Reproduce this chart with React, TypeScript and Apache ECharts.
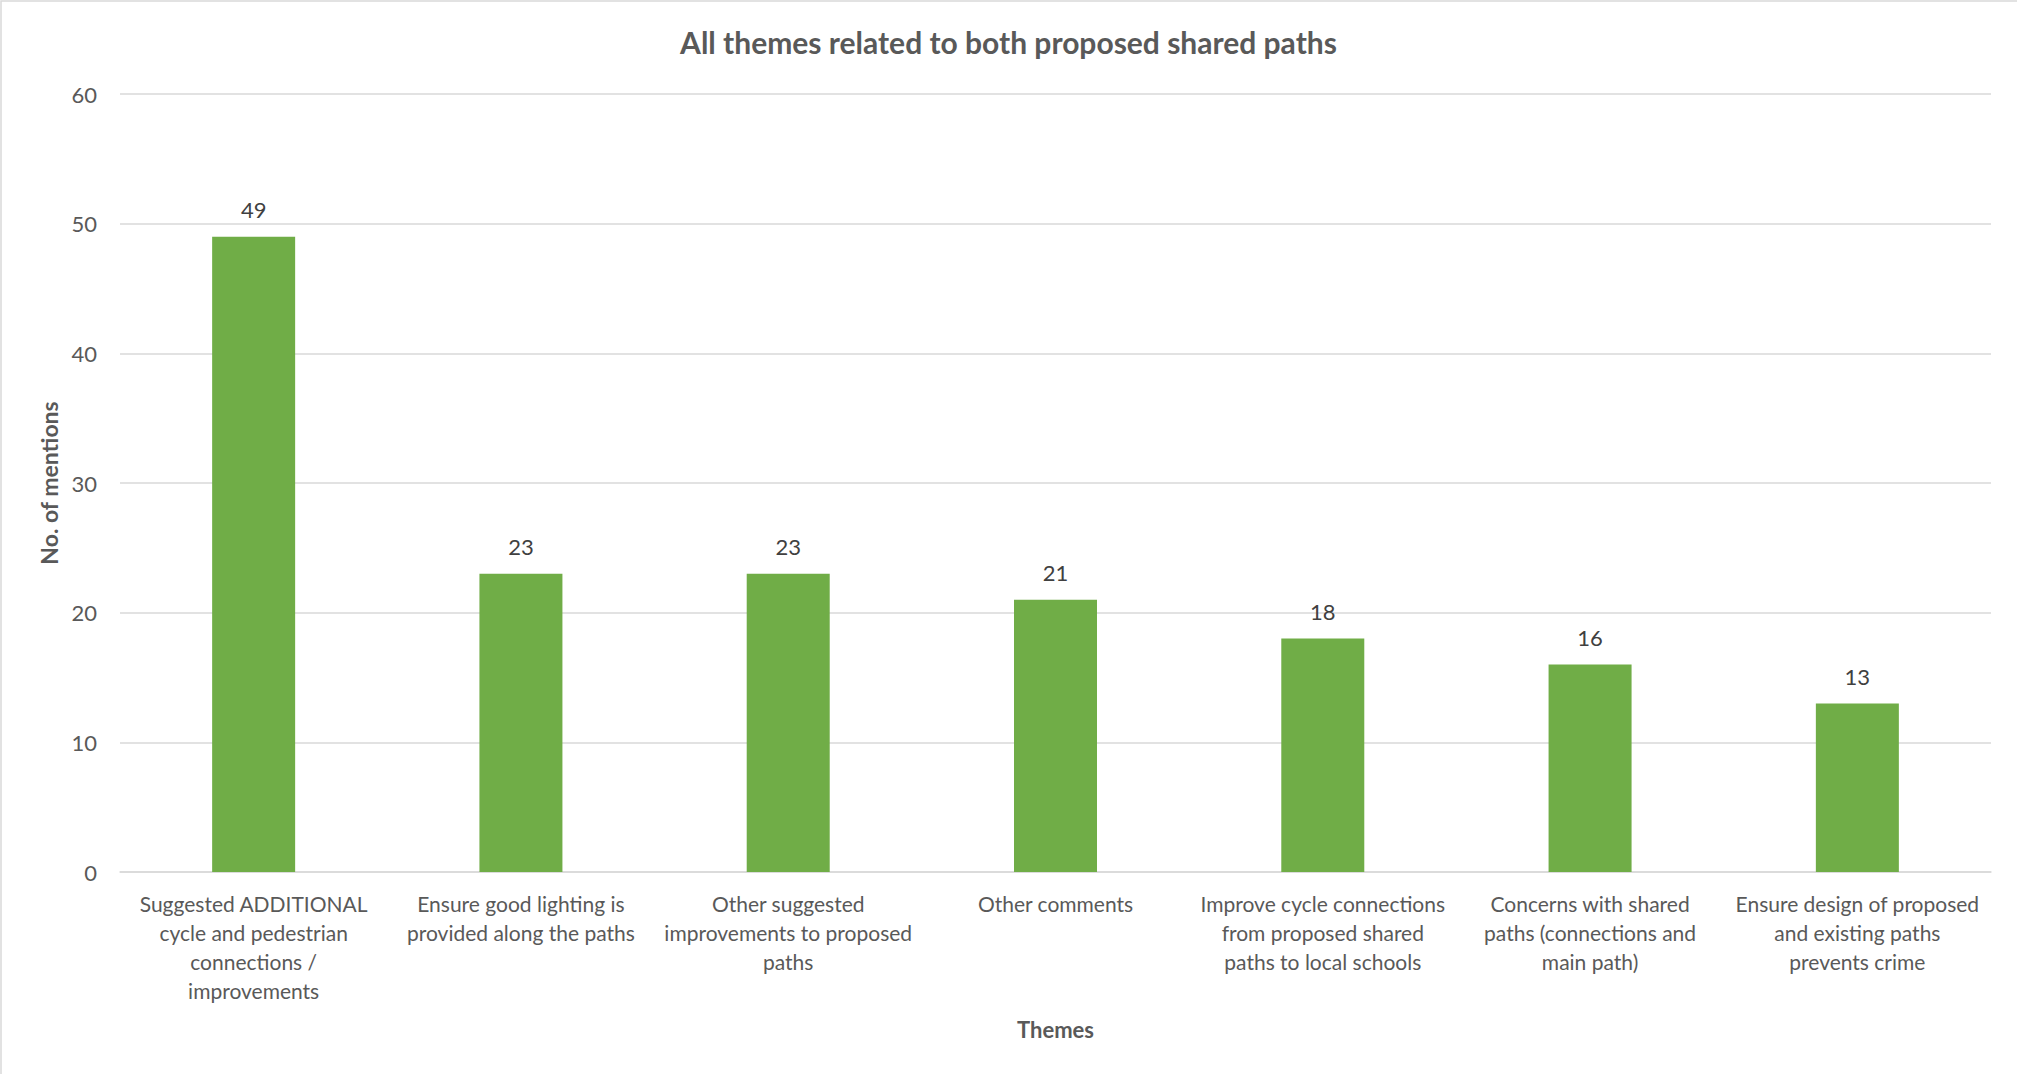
import React, { useEffect, useRef } from "react";
import * as echarts from "echarts";

const titleText = "All themes related to both proposed shared paths";
const categories = [
  "Suggested ADDITIONAL\ncycle and pedestrian\nconnections /\nimprovements",
  "Ensure good lighting is\nprovided along the paths",
  "Other suggested\nimprovements to proposed\npaths",
  "Other comments",
  "Improve cycle connections\nfrom proposed shared\npaths to local schools",
  "Concerns with shared\npaths (connections and\nmain path)",
  "Ensure design of proposed\nand existing paths\nprevents crime",
];
const mentions = [49, 23, 23, 21, 18, 16, 13];
const yTicks = { min: 0, max: 60, interval: 10 };
const xAxisName = "Themes";
const yAxisName = "No. of mentions";

const FONT = "Lato, 'Open Sans', sans-serif";

export default function App() {
  const ref = useRef<HTMLDivElement>(null);
  useEffect(() => {
    document.body.style.margin = "0";
    const chart = echarts.init(ref.current!, null, { renderer: "svg" });
    chart.setOption({
      animation: false,
      backgroundColor: "#ffffff",
      textStyle: { fontFamily: FONT },
      title: {
        text: titleText,
        left: "center",
        top: 22,
        textStyle: { fontFamily: FONT, fontSize: 30, fontWeight: "bold", color: "#595959" },
      },
      graphic: [
        {
          type: "rect",
          shape: { x: 1, y: 1, width: 2030, height: 1090 },
          style: { fill: "none", stroke: "#D9D9D9", lineWidth: 1.5 },
          silent: true,
        },
      ],
      grid: { left: 120, right: 26, top: 94, bottom: 202, containLabel: false },
      xAxis: {
        type: "category",
        data: categories,
        name: xAxisName,
        nameLocation: "middle",
        nameGap: 146,
        nameTextStyle: { fontFamily: FONT, fontSize: 22, fontWeight: "bold", color: "#595959" },
        axisLine: { show: true, lineStyle: { color: "#D9D9D9", width: 1.5 } },
        axisTick: { show: false },
        axisLabel: {
          interval: 0,
          margin: 17,
          fontFamily: FONT,
          fontSize: 21,
          lineHeight: 29,
          color: "#595959",
          align: "center",
        },
      },
      yAxis: {
        type: "value",
        min: yTicks.min,
        max: yTicks.max,
        interval: yTicks.interval,
        name: yAxisName,
        nameLocation: "middle",
        nameGap: 60,
        nameTextStyle: { fontFamily: FONT, fontSize: 23, fontWeight: "bold", color: "#595959" },
        axisLine: { show: false },
        axisTick: { show: false },
        axisLabel: { margin: 23, fontFamily: FONT, fontSize: 22, color: "#595959" },
        splitLine: { lineStyle: { color: "#D9D9D9", width: 1.5 } },
      },
      series: [
        {
          type: "bar",
          data: mentions,
          barWidth: 83,
          itemStyle: { color: "#70AD47" },
          label: {
            show: true,
            position: "top",
            distance: 16,
            fontFamily: FONT,
            fontSize: 22,
            color: "#404040",
          },
        },
      ],
    });
    return () => chart.dispose();
  }, []);
  return <div ref={ref} style={{ width: 2017, height: 1074 }} />;
}
